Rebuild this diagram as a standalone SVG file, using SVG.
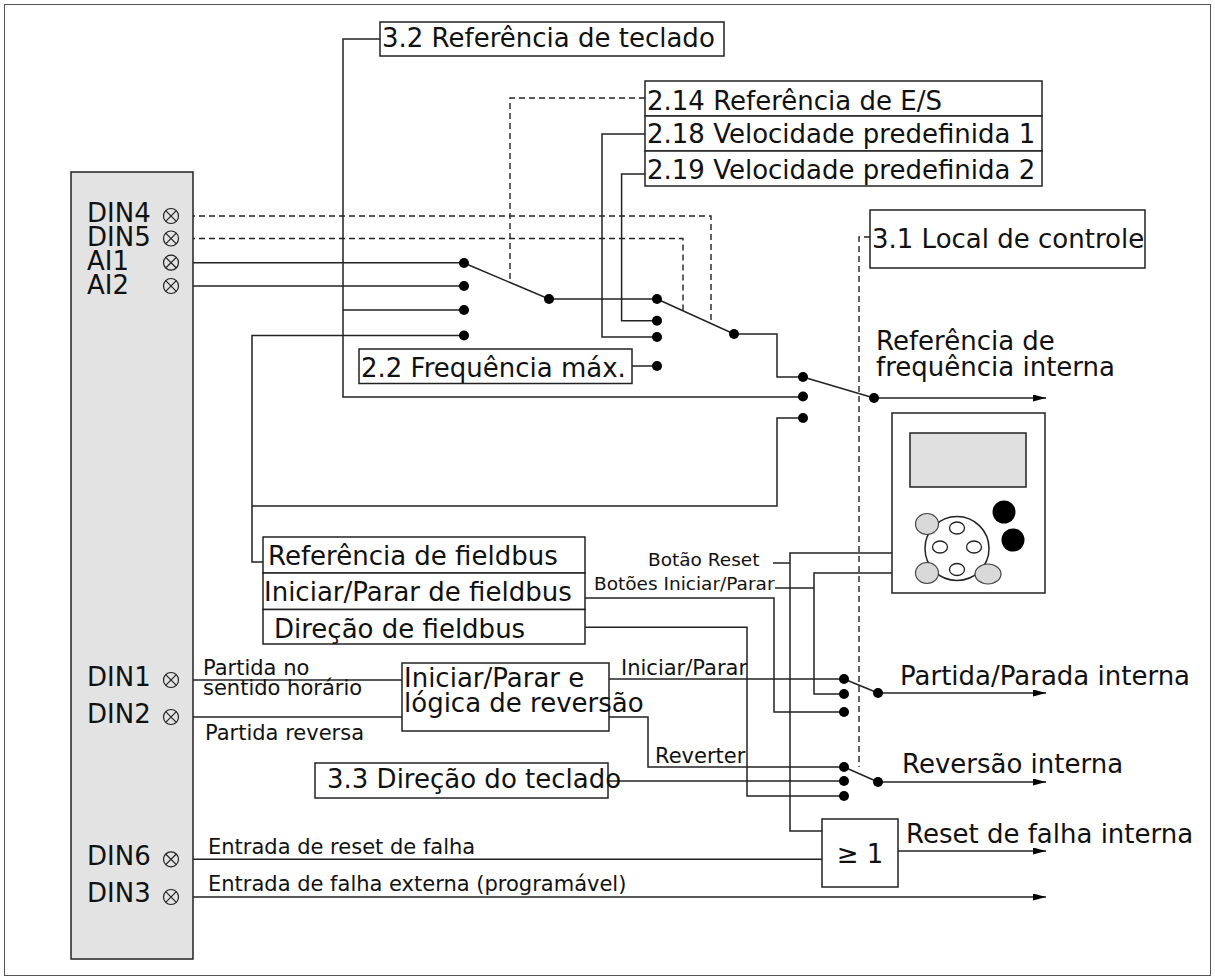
<svg xmlns="http://www.w3.org/2000/svg" width="1215" height="980" viewBox="0 0 1215 980">
<style>
text{font-family:"DejaVu Sans","Verdana",sans-serif;fill:#111}
.t26{font-size:26px}
.t21{font-size:21px}
.t18{font-size:18.5px}
.box{fill:#fff;stroke:#222;stroke-width:1.5}
.ln{fill:none;stroke:#222;stroke-width:1.5}
.dash{fill:none;stroke:#222;stroke-width:1.4;stroke-dasharray:6 4}
.dot{fill:#000}
.term{fill:none;stroke:#222;stroke-width:1.2}
</style>
<defs>
<marker id="arr" viewBox="0 0 13 7" refX="13" refY="3.5" markerWidth="13" markerHeight="7" markerUnits="userSpaceOnUse" orient="auto"><path d="M0,0 L13,3.5 L0,7 z" fill="#000"/></marker>
<g id="xterm"><circle r="7.5" class="term"/><path d="M-5.3,-5.3 L5.3,5.3 M-5.3,5.3 L5.3,-5.3" class="term"/></g>
</defs>
<rect x="4.5" y="4.5" width="1206" height="971" fill="#fff" stroke="#555" stroke-width="1"/>

<g id="connectors">
<path class="ln" d="M380,39 H343 V397 H803"/>
<path class="ln" d="M343,310 H464"/>
<path class="ln" d="M179,262.7 H464"/>
<path class="ln" d="M179,286 H464"/>
<path class="ln" d="M464,263 L549,299 H657"/>
<path class="dash" d="M645,98 H510 V281"/>
<path class="ln" d="M645,134 H602 V337 H657"/>
<path class="ln" d="M645,174 H621.6 V320.7 H657"/>
<path class="ln" d="M632,366 H657"/>
<path class="dash" d="M179,216 H711 V323"/>
<path class="dash" d="M179,238.5 H683 V310.5"/>
<path class="ln" d="M657,299 L734,334 H777 V377 H803"/>
<path class="ln" d="M803,377 L874,398"/>
<path class="ln" d="M874,398 H1046" marker-end="url(#arr)"/>
<path class="dash" d="M870,237 H859 V767"/>
<path class="ln" d="M464,335.5 H252 V562 H263"/>
<path class="ln" d="M252,506 H777 V418 H803"/>
<path class="ln" d="M892,553 H790 V831 H822"/>
<path class="ln" d="M773,563 H790"/>
<path class="ln" d="M892,573 H814 V694 H844"/>
<path class="ln" d="M775,588 H814"/>
<path class="ln" d="M585,598 H774 V712 H844"/>
<path class="ln" d="M585,627.3 H747 V796 H844"/>
<path class="ln" d="M609,679 H844"/>
<path class="ln" d="M844,679 L878,693"/>
<path class="ln" d="M878,693 H1046" marker-end="url(#arr)"/>
<path class="ln" d="M609,717 H648 V767 H844"/>
<path class="ln" d="M608,781 H844"/>
<path class="ln" d="M844,767 L878,782"/>
<path class="ln" d="M878,782 H1046" marker-end="url(#arr)"/>
<path class="ln" d="M179,680 H402"/>
<path class="ln" d="M179,717 H402"/>
<path class="ln" d="M179,859.3 H822"/>
<path class="ln" d="M898,851 H1046" marker-end="url(#arr)"/>
<path class="ln" d="M179,897 H1046" marker-end="url(#arr)"/>
<g class="dot">
<circle cx="464" cy="263" r="5"/><circle cx="464" cy="286" r="5"/><circle cx="464" cy="310" r="5"/><circle cx="464" cy="335.5" r="5"/>
<circle cx="549" cy="299" r="5"/>
<circle cx="657" cy="299" r="5"/><circle cx="657" cy="320.7" r="5"/><circle cx="657" cy="337" r="5"/><circle cx="657" cy="366" r="5"/>
<circle cx="734" cy="334" r="5"/>
<circle cx="803" cy="377" r="5"/><circle cx="803" cy="396.5" r="5"/><circle cx="803" cy="418" r="5"/>
<circle cx="874" cy="398" r="5"/>
<circle cx="844" cy="679" r="5"/><circle cx="844" cy="694" r="5"/><circle cx="844" cy="712" r="5"/>
<circle cx="878" cy="693" r="5"/>
<circle cx="844" cy="767" r="5"/><circle cx="844" cy="781" r="5"/><circle cx="844" cy="796" r="5"/>
<circle cx="878" cy="782" r="5"/>
</g>
<text class="t18" x="648" y="566">Botão Reset</text>
<text class="t18" x="594" y="590">Botões Iniciar/Parar</text>
<text class="t21" x="621" y="675">Iniciar/Parar</text>
<text class="t21" x="655" y="763">Reverter</text>
<text class="t21" x="203" y="675">Partida no</text>
<text class="t21" x="203" y="695">sentido horário</text>
<text class="t21" x="205" y="740">Partida reversa</text>
<text class="t21" x="208" y="854">Entrada de reset de falha</text>
<text class="t21" x="208" y="891">Entrada de falha externa (programável)</text>
</g>

<g id="io-panel">
<rect x="71" y="172" width="122" height="787" fill="#e3e3e3" stroke="#222" stroke-width="1.5"/>
<text class="t26" x="87" y="222">DIN4</text>
<text class="t26" x="87" y="246">DIN5</text>
<text class="t26" x="87" y="270">AI1</text>
<text class="t26" x="87" y="294">AI2</text>
<text class="t26" x="87" y="686">DIN1</text>
<text class="t26" x="87" y="723">DIN2</text>
<text class="t26" x="87" y="865">DIN6</text>
<text class="t26" x="87" y="902">DIN3</text>
<use href="#xterm" x="171" y="216"/>
<use href="#xterm" x="171" y="238.5"/>
<use href="#xterm" x="171" y="262.7"/>
<use href="#xterm" x="171" y="286"/>
<use href="#xterm" x="171" y="680"/>
<use href="#xterm" x="171" y="717"/>
<use href="#xterm" x="171" y="859.3"/>
<use href="#xterm" x="171" y="897"/>
</g>

<g id="keypad-ref">
<rect class="box" x="380" y="22" width="344" height="34"/>
<text class="t26" x="382" y="47">3.2 Referência de teclado</text>
</g>
<g id="io-ref">
<rect class="box" x="645" y="81" width="397" height="35"/>
<text class="t26" x="647" y="110">2.14 Referência de E/S</text>
</g>
<g id="preset1">
<rect class="box" x="645" y="116" width="397" height="35"/>
<text class="t26" x="647" y="143">2.18 Velocidade predefinida 1</text>
</g>
<g id="preset2">
<rect class="box" x="645" y="151" width="397" height="35"/>
<text class="t26" x="647" y="179">2.19 Velocidade predefinida 2</text>
</g>
<g id="control-place">
<rect class="box" x="870" y="210" width="275" height="58"/>
<text class="t26" x="872" y="248">3.1 Local de controle</text>
</g>
<g id="max-freq">
<rect class="box" x="359" y="349" width="273" height="34.5"/>
<text class="t26" x="361" y="377">2.2 Frequência máx.</text>
</g>
<g id="freq-ref-out">
<text class="t26" x="876" y="350">Referência de</text>
<text class="t26" x="876" y="376">frequência interna</text>
</g>
<g id="keypad">
<rect x="892" y="413" width="153" height="180" fill="#fff" stroke="#222" stroke-width="1.5"/>
<rect x="910" y="433" width="116" height="54" fill="#e0e0e0" stroke="#222" stroke-width="1.5"/>
<circle cx="1004" cy="512" r="11.5" fill="#000"/>
<circle cx="1013" cy="540" r="11.5" fill="#000"/>
<circle cx="957" cy="548.5" r="32" fill="#fff" stroke="#222" stroke-width="1.5"/>
<ellipse cx="957" cy="528" rx="7.5" ry="6" fill="#fff" stroke="#222" stroke-width="1.3"/>
<ellipse cx="940" cy="547" rx="7.5" ry="6" fill="#fff" stroke="#222" stroke-width="1.3"/>
<ellipse cx="974" cy="547" rx="7.5" ry="6" fill="#fff" stroke="#222" stroke-width="1.3"/>
<ellipse cx="957" cy="569.5" rx="7.5" ry="6" fill="#fff" stroke="#222" stroke-width="1.3"/>
<ellipse cx="927" cy="524" rx="11.5" ry="10.5" fill="#d9d9d9" stroke="#444" stroke-width="1.2"/>
<ellipse cx="927" cy="573" rx="11.5" ry="10.5" fill="#d9d9d9" stroke="#444" stroke-width="1.2"/>
<ellipse cx="988" cy="574" rx="13" ry="10" fill="#d9d9d9" stroke="#444" stroke-width="1.2"/>
</g>
<g id="fieldbus-ref">
<rect class="box" x="263" y="537" width="322" height="36"/>
<text class="t26" x="268" y="565">Referência de fieldbus</text>
</g>
<g id="fieldbus-startstop">
<rect class="box" x="263" y="573" width="322" height="36.5"/>
<text class="t26" x="264" y="601">Iniciar/Parar de fieldbus</text>
</g>
<g id="fieldbus-dir">
<rect class="box" x="263" y="609.5" width="322" height="34.5"/>
<text class="t26" x="274" y="638">Direção de fieldbus</text>
</g>
<g id="logic">
<rect class="box" x="402" y="663" width="207" height="68"/>
<text class="t26" x="404" y="687">Iniciar/Parar e</text>
<text class="t26" x="404" y="712">lógica de reversão</text>
</g>
<g id="keypad-dir">
<rect class="box" x="315" y="763" width="293" height="35"/>
<text class="t26" x="327" y="788">3.3 Direção do teclado</text>
</g>
<g id="or-gate">
<rect class="box" x="822" y="819" width="76" height="68"/>
<text class="t26" x="860" y="863" text-anchor="middle">≥ 1</text>
</g>
<g id="outputs">
<text class="t26" x="900" y="685">Partida/Parada interna</text>
<text class="t26" x="902" y="773">Reversão interna</text>
<text class="t26" x="906" y="843">Reset de falha interna</text>
</g>
</svg>
